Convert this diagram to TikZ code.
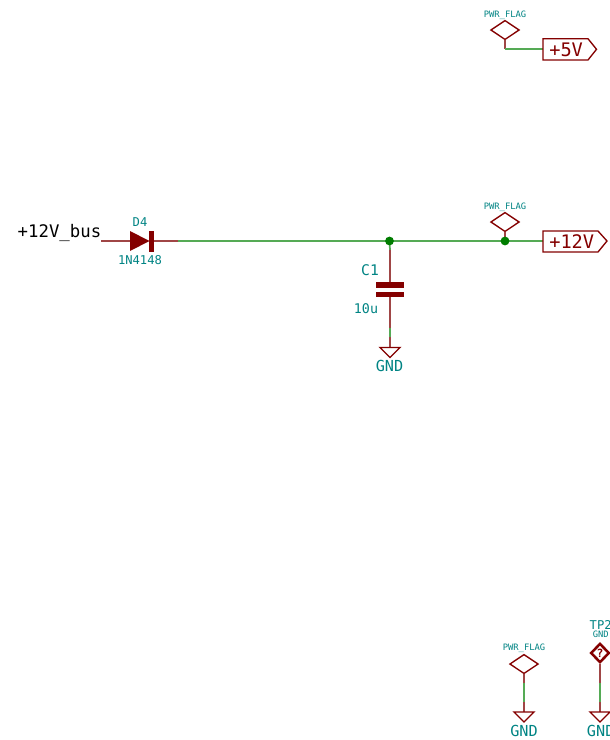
\documentclass[tikz,border=0pt]{standalone}
\usepackage{fontspec}
\setmainfont{DejaVu Sans Mono}
\usetikzlibrary{shapes.geometric}
\definecolor{sym}{RGB}{132,0,0}
\definecolor{pinc}{RGB}{160,70,70}
\definecolor{wirec}{RGB}{85,170,85}
\definecolor{junc}{RGB}{0,125,0}
\definecolor{teal2}{RGB}{0,132,132}
\newcommand{\tsz}[1]{\fontsize{#1}{#1}\selectfont}
\tikzset{
  x=0.75pt,y=-0.75pt,
  wire/.style={draw=wirec,line width=1.3pt},
  pin/.style={draw=pinc,line width=1.1pt},
  body/.style={draw=sym,line width=1pt,line join=miter},
  filled/.style={fill=sym,draw=none},
  junction/.style={circle,fill=junc,draw=none,inner sep=0pt,minimum size=6.6pt},
  flag/.style={diamond,draw=sym,line width=1pt,inner sep=0pt,minimum width=21.5pt,minimum height=14.5pt},
  ref/.style={text=teal2,inner sep=0pt,font=\tsz{11}},
  val/.style={text=teal2,inner sep=0pt,font=\tsz{9.1}},
  small/.style={text=teal2,inner sep=0pt,font=\tsz{6.6}},
  gndtext/.style={text=teal2,inner sep=0pt,font=\tsz{11.4}},
  hlabel/.style={text=sym,inner sep=0pt,font=\tsz{14},anchor=west},
}
\begin{document}
\begin{tikzpicture}
\useasboundingbox (0,0) rectangle (610,740);
\fill[white] (0,0) rectangle (610,740);
\clip (0,0) rectangle (610,740);

% flags
\node[flag] (f1) at (505,30) {};
\node[flag] (f2) at (505,222) {};
\node[flag] (f3) at (524,664) {};
\node[small] (f1t) at (505,15) {PWR\_FLAG};
\node[small] (f2t) at (505,207) {PWR\_FLAG};
\node[small] (f3t) at (524,648) {PWR\_FLAG};

% +5V net
\coordinate (p5a) at (505,49);
\coordinate (l5) at (543,49);
\draw[pin] (f1.south) -- (p5a);
\draw[wire] (p5a) -- (l5);
\draw[body] (543,38.7) -- (588,38.7) -- (596.5,49.3) -- (588,60) -- (543,60) -- cycle;
\node[hlabel] (t5) at (549,50) {+5V};

% +12V net
\coordinate (busend) at (101,241);
\coordinate (dA) at (130,241);
\coordinate (dK) at (153,241);
\coordinate (dend) at (178,241);
\coordinate (j1c) at (389.5,241);
\coordinate (j2c) at (505,241);
\coordinate (l12) at (543,241);
\node[text=black,inner sep=0pt,anchor=east,font=\tsz{13}] (bus) at (101.5,232.5) {+12V\_bus};
\draw[pin] (busend) -- (dA);
\draw[pin] (dK) -- (dend);
\draw[wire] (dend) -- (j1c) -- (j2c) -- (l12);
\fill[filled] (130,231) -- (149.5,241) -- (130,251) -- cycle;
\fill[filled] (149,230.5) rectangle (153.5,251.5);
\node[val] (d4) at (140,222) {D4};
\node[val] (dv) at (140,260) {1N4148};

\draw[pin] (f2.south) -- (j2c);
\draw[body] (543,231) -- (598,231) -- (607,241) -- (598,252) -- (543,252) -- cycle;
\node[hlabel] (t12) at (549,242) {+12V};

% capacitor
\coordinate (c1a) at (390,250);
\coordinate (c1top) at (390,282);
\coordinate (c1bot) at (390,297);
\coordinate (c1b) at (390,328);
\coordinate (c1c) at (390,337);
\coordinate (g1) at (390,347.5);
\draw[wire] (j1c) -- (c1a);
\draw[pin] (c1a) -- (c1top);
\fill[filled] (376,282) rectangle (403.5,287.5);
\fill[filled] (376,291.5) rectangle (403.5,297);
\draw[pin] (c1bot) -- (c1b);
\draw[wire] (c1b) -- (c1c);
\draw[pin] (c1c) -- (g1);
\draw[body] (380,347.5) -- (400,347.5) -- (390,357.5) -- cycle;
\node[ref] (c1t) at (370,270) {C1};
\node[ref,font=\tsz{10}] (c1v) at (366,309) {10u};
\node[gndtext] (g1t) at (389.5,366) {GND};

% junctions
\node[junction] (j1) at (j1c) {};
\node[junction] (j2) at (j2c) {};

% bottom flag GND
\coordinate (f3a) at (524,683);
\coordinate (f3b) at (524,702);
\coordinate (g3) at (524,712);
\draw[pin] (f3.south) -- (f3a);
\draw[wire] (f3a) -- (f3b);
\draw[pin] (f3b) -- (g3);
\draw[body] (514,712) -- (534,712) -- (524,722) -- cycle;
\node[gndtext] (g3t) at (524,730.5) {GND};

% TP2
\node[diamond,draw=sym,line width=1.9pt,inner sep=0pt,minimum width=14pt,minimum height=14.5pt] (tp) at (600,653) {};
\node[text=sym,inner sep=0pt,font=\bfseries\tsz{8.5}] (tpq) at (600,653) {?};
\node[val] (tpt) at (600.7,624.5) {TP2};
\node[small] (tpg) at (600.7,634.5) {GND};
\coordinate (tpa) at (600,683);
\coordinate (tpb) at (600,702);
\coordinate (g4) at (600,712);
\draw[pin] (tp.south) -- (tpa);
\draw[wire] (tpa) -- (tpb);
\draw[pin] (tpb) -- (g4);
\draw[body] (590,712) -- (610,712) -- (600,722) -- cycle;
\node[gndtext] (g4t) at (600.7,730.5) {GND};
\end{tikzpicture}
\end{document}
